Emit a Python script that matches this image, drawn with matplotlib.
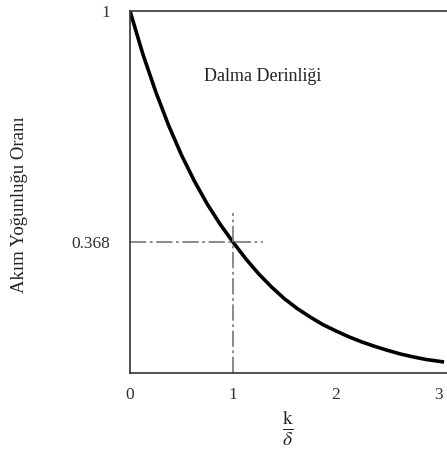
import numpy as np
import matplotlib
matplotlib.use('Agg')
import matplotlib.pyplot as plt

# values
kd = [0, 0.125, 0.25, 0.375, 0.5, 0.625, 0.75, 0.875, 1.0, 1.125, 1.25, 1.375,
      1.5, 1.625, 1.75, 1.875, 2.0, 2.125, 2.25, 2.375, 2.5, 2.625, 2.75,
      2.875, 3.0, 3.05]
oran = [1.000, 0.882, 0.779, 0.687, 0.606, 0.535, 0.472, 0.417, 0.368, 0.322,
        0.281, 0.245, 0.213, 0.186, 0.163, 0.142, 0.125, 0.109, 0.095, 0.083,
        0.072, 0.062, 0.054, 0.047, 0.042, 0.040]
x_ticks = [0, 1, 2, 3]
x_labels = ['0', '1', '2', '3']
y_ticks = [0.368, 1]
y_labels = ['0.368', '1']
x_mark = 1.0
y_mark = 0.368

plt.rcParams['font.family'] = ['Liberation Serif', 'DejaVu Serif']
plt.rcParams['mathtext.fontset'] = 'stix'

fig = plt.figure(figsize=(4.47, 4.50), dpi=100)
ax = fig.add_axes([130/447, 77/450, 317/447, 362/450])

ax.plot(kd, oran, color='black', lw=2.6, solid_capstyle='butt')

# crosshair at 1/e
gray = '#808080'
ax.plot([0, 1.29], [y_mark, y_mark], color=gray, lw=1.3, dashes=(9, 2, 1.5, 2))
ax.plot([x_mark, x_mark], [0.01, 0.447], color=gray, lw=1.3, dashes=(9, 2, 1.5, 2))

ax.set_xlim(0, 3.078)
ax.set_ylim(0.01, 1)
ax.set_xticks(x_ticks)
ax.set_xticklabels(x_labels)
ax.set_yticks(y_ticks)
ax.set_yticklabels(y_labels)
ax.tick_params(length=0, labelsize=12.5, colors='#333333', pad=10)
ax.tick_params(axis='y', pad=14)

for s in ['left', 'top', 'bottom']:
    ax.spines[s].set_color('#333333')
    ax.spines[s].set_linewidth(1.2)
ax.spines['right'].set_visible(False)

ax.text(0.72, 0.82, 'Dalma Derinliği', fontsize=13, color='#222222',
        va='center', ha='left')

fig.text(20/447, 1 - 205/450, 'Akım Yoğunluğu Oranı', rotation=90,
         fontsize=13.5, color='#222222', ha='center', va='center')
fig.text(288/447, 1 - 428/450, r'$\frac{\mathrm{k}}{\delta}$', fontsize=20,
         color='#222222', ha='center', va='center')

fig.savefig('out.png', dpi=100)
